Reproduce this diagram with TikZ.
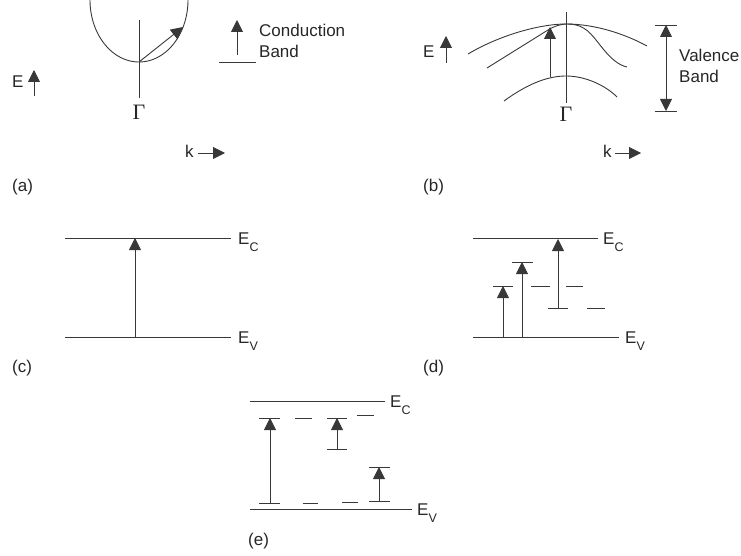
\documentclass[tikz,border=0pt]{standalone}
\usepackage{fontspec}
\setmainfont{Liberation Sans}
\newfontfamily\serifgam{Liberation Serif}
\usetikzlibrary{arrows.meta}
\newcommand{\esub}[1]{E\raisebox{-6.5pt}{\fontsize{12.5}{13}\selectfont #1}}
\begin{document}
\begin{tikzpicture}[x=1pt,y=-1pt,
  ln/.style={draw=black!78, line width=0.9pt},
  arr/.style={ln, -{Triangle[length=12pt,width=12pt]}},
  darr/.style={ln, {Triangle[length=12pt,width=12pt]}-{Triangle[length=12pt,width=12pt]}},
  lbl/.style={font=\fontsize{17}{21}\selectfont, text=black!85, inner sep=0pt},
  gam/.style={font=\serifgam\fontsize{22}{24}\selectfont, text=black!85, inner sep=0pt}]
\useasboundingbox (0,0) rectangle (741,556);

% ---------------- (a) ----------------
\draw[ln] plot[domain=172:368, samples=90, smooth] ({139+49*cos(\x)},{-62*sin(\x)});
\draw[ln] (139,20) -- (139,98);
\coordinate (av) at (139,62);
\coordinate (at) at (183,27);
\draw[arr] (av) -- (at);
\node[gam] (ga) at (139,112.5) {Γ};
\node[lbl, anchor=base west] (Ea) at (12,88) {E};
\draw[arr] (34,96) -- (34,70);
\node[lbl, anchor=base west] (ka) at (185,158) {k};
\draw[arr] (198,153) -- (225,153);
\draw[ln] (219,62) -- (256,62);
\draw[arr] (237,55) -- (237,20);
\node[lbl, anchor=base west] (cb1) at (259,37) {Conduction};
\node[lbl, anchor=base west] (cb2) at (259,58) {Band};
\node[lbl, anchor=base west] (la) at (12,192) {(a)};

% ---------------- (b) ----------------
\draw[ln] (468,54) .. controls (500,35) and (540,24) .. (566,24)
                   .. controls (595,24) and (625,34) .. (647,46);
\draw[ln] (487,68) -- (548,30) .. controls (555,26) and (560,24) .. (568,24)
          .. controls (585,24) and (592,35) .. (600,45)
          .. controls (610,58) and (618,65) .. (627,67);
\draw[ln] (504,101) .. controls (530,82) and (550,76) .. (566,76)
                    .. controls (585,76) and (605,85) .. (617,97);
\draw[ln] (566,12) -- (566,103);
\draw[arr] (550,77) -- (550,27);
\node[gam] (gb) at (566,114) {Γ};
\node[lbl, anchor=base west] (Eb) at (423,58) {E};
\draw[arr] (446,63) -- (446,36);
\node[lbl, anchor=base west] (kb) at (603,158) {k};
\draw[arr] (615,153) -- (641,153);
\draw[ln] (655,25) -- (677,25);
\draw[ln] (655,111) -- (677,111);
\draw[darr] (666,25) -- (666,111);
\node[lbl, anchor=base west] (vb1) at (679,62) {Valence};
\node[lbl, anchor=base west] (vb2) at (679,83) {Band};
\node[lbl, anchor=base west] (lb) at (423,192) {(b)};

% ---------------- (c) ----------------
\draw[ln] (65,238) -- (231,238);
\draw[ln] (65,337) -- (231,337);
\draw[arr] (135,337) -- (135,238);
\node[lbl, anchor=base west] (ecc) at (238,244.5) {\esub{C}};
\node[lbl, anchor=base west] (evc) at (238,343.5) {\esub{V}};
\node[lbl, anchor=base west] (lc) at (12,372) {(c)};

% ---------------- (d) ----------------
\draw[ln] (473,238) -- (598,238);
\draw[ln] (473,337) -- (619,337);
\draw[ln] (493,286) -- (513,286);
\draw[arr] (503,337) -- (503,286);
\draw[ln] (512,262) -- (533,262);
\draw[arr] (522,337) -- (522,262);
\draw[ln] (531,286) -- (550,286);
\draw[ln] (566,286) -- (583,286);
\draw[ln] (548,308) -- (568,308);
\draw[arr] (558,308) -- (558,239);
\draw[ln] (587,308) -- (605,308);
\node[lbl, anchor=base west] (ecd) at (603,244.5) {\esub{C}};
\node[lbl, anchor=base west] (evd) at (625,343.5) {\esub{V}};
\node[lbl, anchor=base west] (ld) at (423,372) {(d)};

% ---------------- (e) ----------------
\draw[ln] (250,401) -- (385,401);
\draw[ln] (250,509) -- (412,509);
\draw[ln] (259,418) -- (280,418);
\draw[ln] (259,503) -- (280,503);
\draw[arr] (270,503) -- (270,418);
\draw[ln] (295,418) -- (312,418);
\draw[ln] (327,418) -- (347,418);
\draw[ln] (327,449) -- (347,449);
\draw[arr] (337,449) -- (337,418);
\draw[ln] (357,415) -- (374,415);
\draw[ln] (369,467) -- (390,467);
\draw[ln] (369,501) -- (390,501);
\draw[arr] (379,501) -- (379,467);
\draw[ln] (303,503) -- (318,503);
\draw[ln] (342,502) -- (358,502);
\node[lbl, anchor=base west] (ece) at (390,407.5) {\esub{C}};
\node[lbl, anchor=base west] (eve) at (417,515.5) {\esub{V}};
\node[lbl, anchor=base west] (le) at (248,545) {(e)};
\end{tikzpicture}
\end{document}
